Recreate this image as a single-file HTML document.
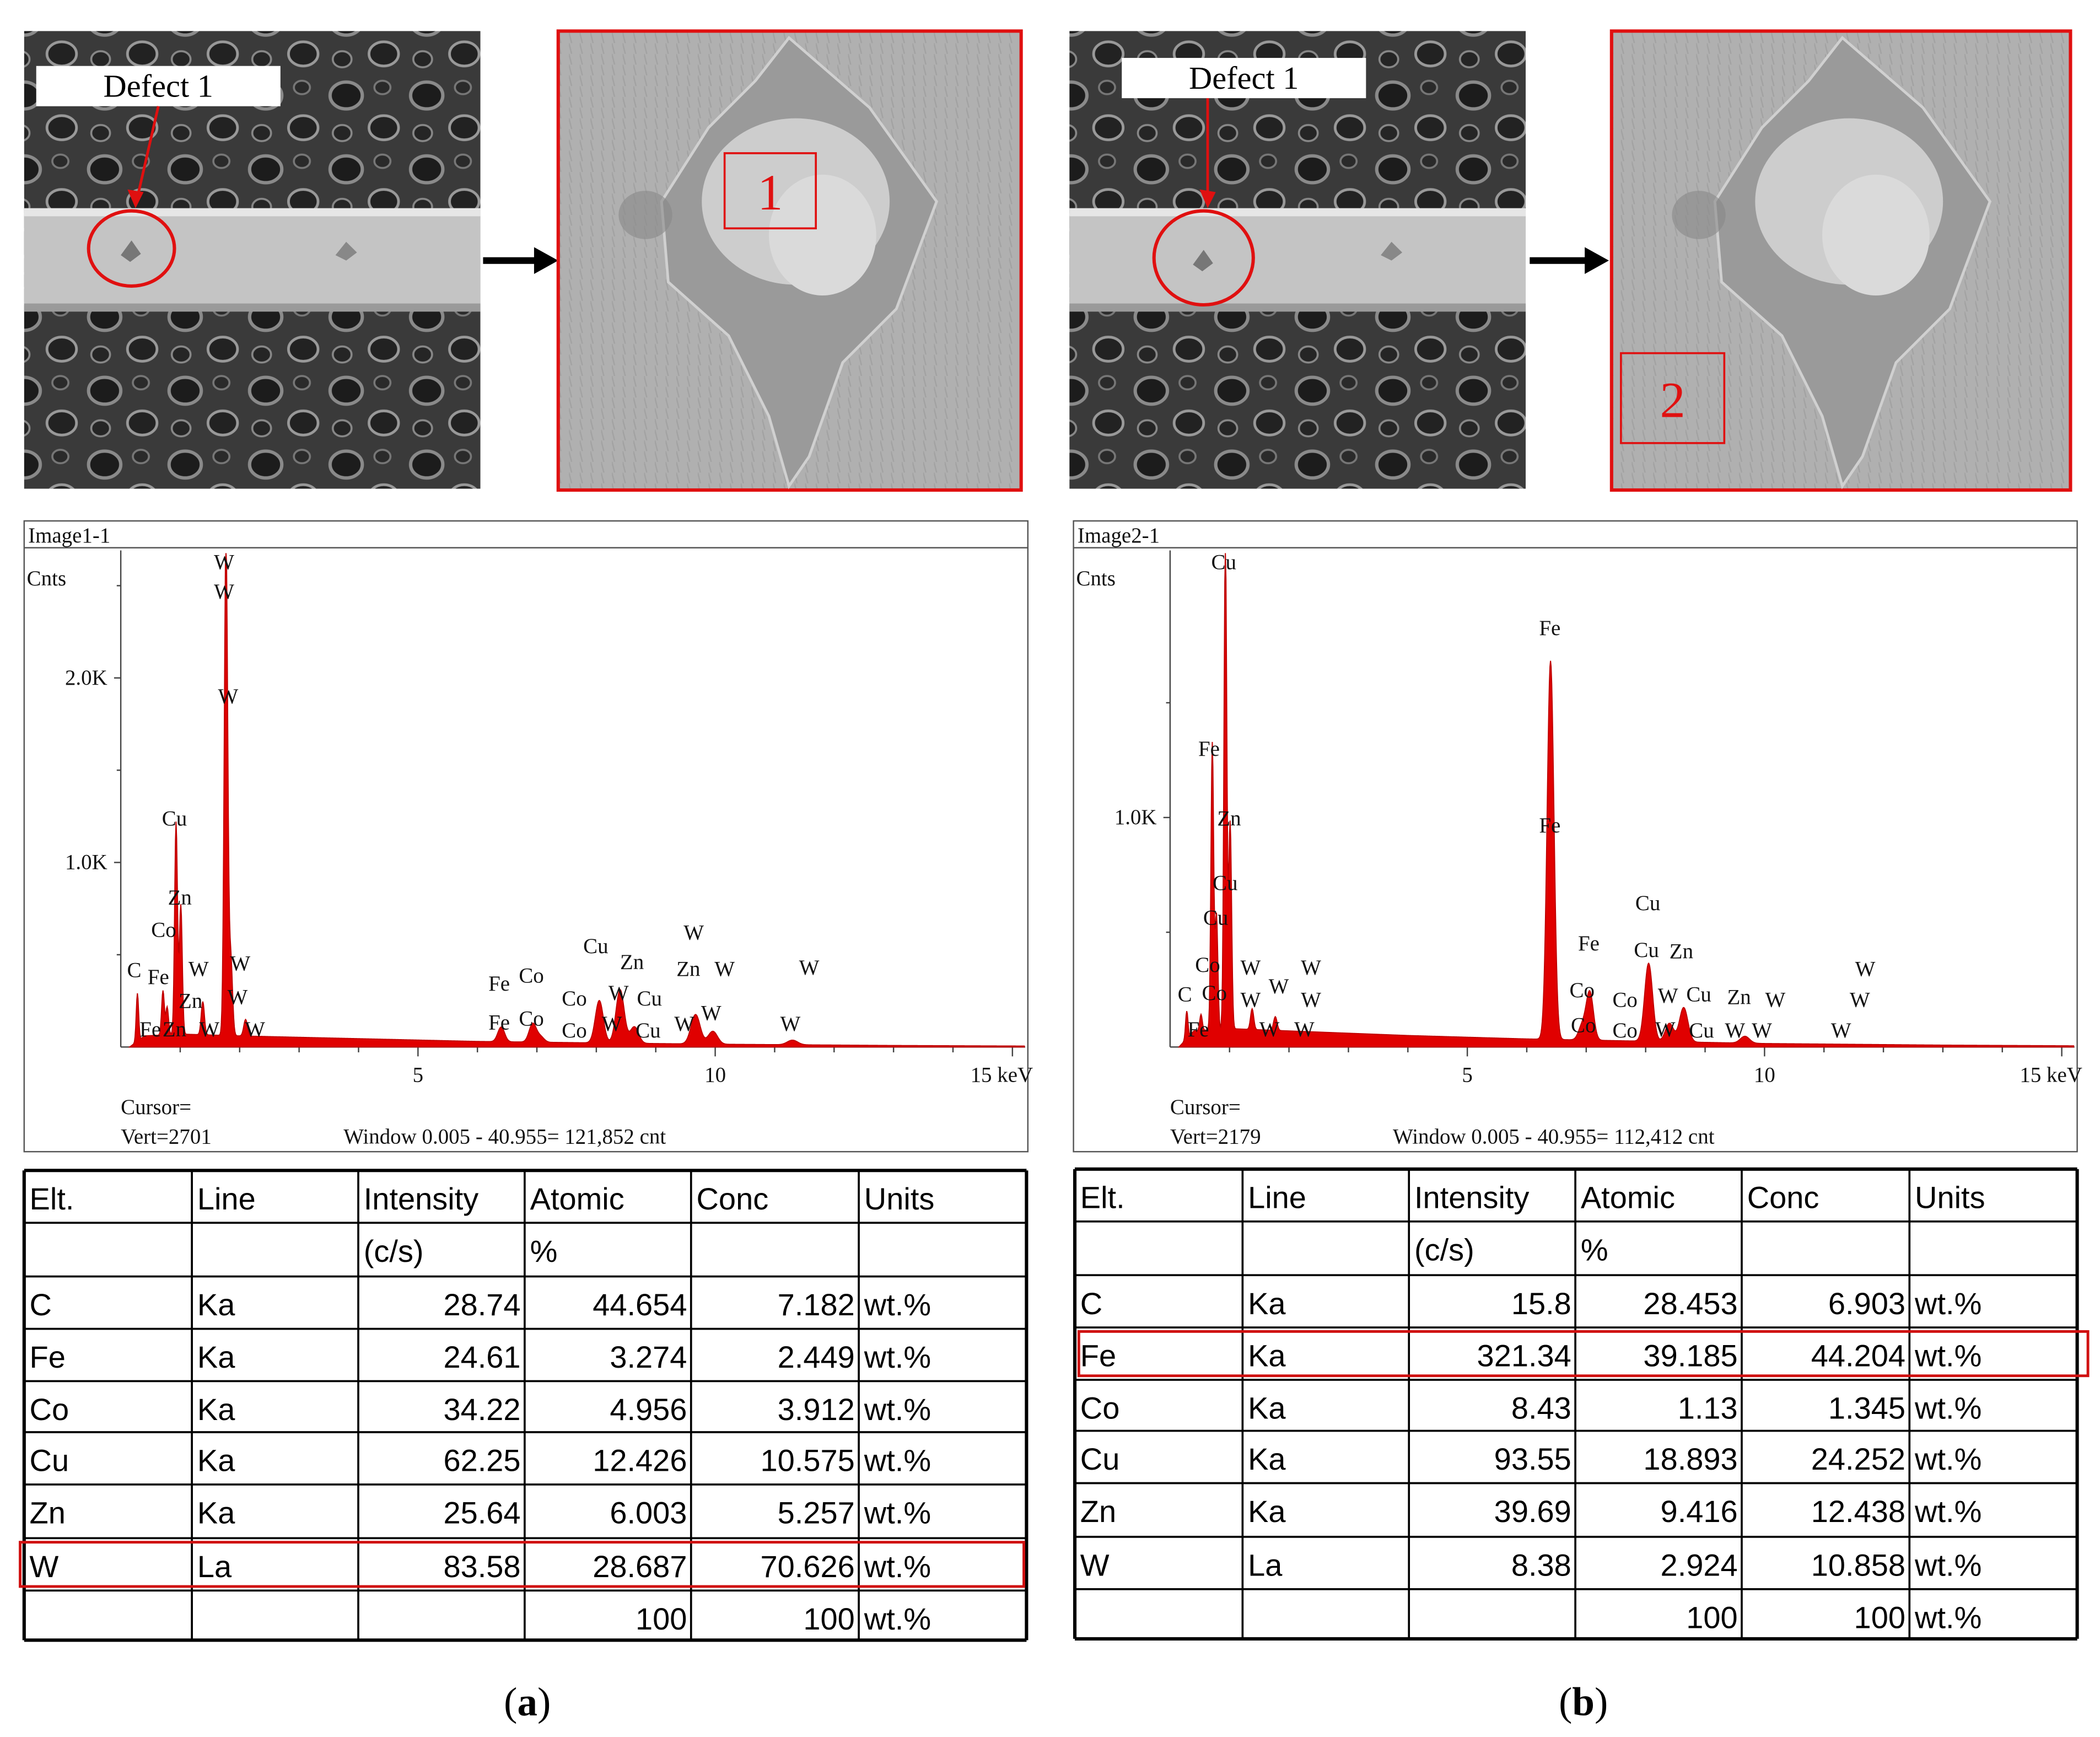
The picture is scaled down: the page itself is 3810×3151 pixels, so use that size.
<!DOCTYPE html>
<html><head><meta charset="utf-8"><style>
html,body{margin:0;padding:0;background:#fff}
svg{display:block}
.s{font-family:"Liberation Serif",serif;font-size:16px;fill:#111}
.t{font-family:"Liberation Sans",sans-serif;font-size:23px;fill:#000}
</style></head><body>
<svg id="root" width="3810" height="3151" viewBox="0 0 1565 1294" xmlns="http://www.w3.org/2000/svg">
<defs>
<pattern id="cells" width="60" height="55" patternUnits="userSpaceOnUse">
<rect width="60" height="55" fill="#3a3a3a"/>
<ellipse cx="18" cy="16" rx="12" ry="10" fill="#1c1c1c" stroke="#8a8a8a" stroke-width="2.5"/>
<ellipse cx="46" cy="40" rx="11" ry="9" fill="#222" stroke="#999" stroke-width="2"/>
<ellipse cx="45" cy="10" rx="6" ry="5" fill="#2a2a2a" stroke="#777" stroke-width="1.5"/>
<ellipse cx="15" cy="44" rx="7" ry="6" fill="#252525" stroke="#888" stroke-width="1.5"/>
</pattern>
<pattern id="metal" width="8" height="8" patternUnits="userSpaceOnUse">
<rect width="8" height="8" fill="#b0b0b0"/><line x1="0" y1="0" x2="2" y2="8" stroke="#a2a2a2" stroke-width="1"/>
</pattern>
</defs>
<g id="panels"></g>
</svg>
<script>
// ---- data ----
const xTicksMajor=[5,10,15];
const xTickLabels=['5','10','15 keV'];
const peakEA=[0.28,0.71,0.78,0.93,1.01,1.38,1.77,1.85,2.1,6.4,6.93,7.06,8.05,8.4,8.64,9.67,9.96,11.3];
const peakHA=[260,240,150,1150,700,180,2700,420,90,80,100,30,230,290,90,160,70,25];
const peakEB=[0.28,0.52,0.71,0.78,0.93,1.01,1.38,1.77,6.4,7.06,6.93,8.05,8.4,8.64,9.67];
const peakHB=[120,70,1250,500,2130,900,90,60,1650,210,60,340,80,150,30];
const yTicksA=[1000,2000];const yTickLabelsA=['1.0K','2.0K'];
const yTicksB=[1000];const yTickLabelsB=['1.0K'];
const bgE=[0.15,0.4,1,2,4,6,8,10,13,15.2];
const bgA=[0,60,70,60,45,30,22,15,8,5];
const bgB=[0,70,80,70,50,35,25,15,8,5];
const tableHead1=['Elt.','Line','Intensity','Atomic','Conc','Units'];
const tableHead2=['','','(c/s)','%','',''];
const eltA=['C','Fe','Co','Cu','Zn','W'];
const lineA=['Ka','Ka','Ka','Ka','Ka','La'];
const intA=['28.74','24.61','34.22','62.25','25.64','83.58'];
const atA=['44.654','3.274','4.956','12.426','6.003','28.687'];
const concA=['7.182','2.449','3.912','10.575','5.257','70.626'];
const intB=['15.8','321.34','8.43','93.55','39.69','8.38'];
const atB=['28.453','39.185','1.13','18.893','9.416','2.924'];
const concB=['6.903','44.204','1.345','24.252','12.438','10.858'];
const labelsA=[['W',167,424],['W',167,446],['W',170,524],['Cu',130,615],['Zn',134,674],['Co',122,698],['C',100,728],['Fe',118,733],['W',148,727],['W',179,723],['Zn',142,751],['W',177,748],['Fe',112,772],['Zn',130,772],['W',156,772],['W',190,772],['Fe',372,738],['Co',396,732],['Cu',444,710],['Zn',471,722],['W',517,700],['Zn',513,727],['W',540,727],['W',603,726],['Co',428,749],['W',461,745],['Cu',484,749],['Fe',372,767],['Co',396,764],['Co',428,773],['W',456,768],['Cu',483,773],['W',510,768],['W',530,760],['W',589,768]];
const labelsB=[['Cu',912,424],['Fe',1155,473],['Fe',901,563],['Zn',916,615],['Fe',1155,620],['Cu',913,663],['Cu',906,689],['Cu',1228,678],['Fe',1184,708],['Co',900,724],['W',932,726],['W',977,726],['Cu',1227,713],['Zn',1253,714],['C',883,746],['Co',905,745],['W',932,750],['W',953,740],['W',977,750],['Co',1179,743],['Co',1211,750],['W',1243,747],['Cu',1266,746],['Zn',1296,748],['W',1323,750],['W',1390,727],['W',1386,750],['Co',1180,769],['Co',1211,773],['W',1241,772],['Cu',1268,773],['W',1293,773],['W',1313,773],['W',1372,773],['W',946,772],['W',972,772],['Fe',893,772]];

const NS='http://www.w3.org/2000/svg';
const root=document.getElementById('panels');
function mk(tag,attrs,parent,text){const e=document.createElementNS(NS,tag);for(const k in attrs)e.setAttribute(k,attrs[k]);if(text!==undefined)e.textContent=text;(parent||root).appendChild(e);return e;}

function semPanel(ox,boxes){
  const g=mk('g',{});
  
  
  mk('rect',{x:ox,y:23,width:340,height:341,fill:'url(#cells)'},g);
  mk('rect',{x:ox,y:155,width:340,height:77,fill:'#c4c4c4'},g);
  mk('rect',{x:ox,y:155,width:340,height:6,fill:'#e6e6e6'},g);
  mk('rect',{x:ox,y:226,width:340,height:6,fill:'#9a9a9a'},g);
  mk('rect',{x:boxes.lx,y:boxes.ly,width:182,height:30,fill:'#fff'},g);
  const t=mk('text',{x:boxes.lx+91,y:boxes.ly+23,'text-anchor':'middle','font-family':'Liberation Serif,serif','font-size':24},g,'Defect 1');
  
  mk('line',{x1:boxes.ax1,y1:boxes.ly+30,x2:boxes.ax2,y2:boxes.ay2,stroke:'#e01010','stroke-width':2},g);
  mk('polygon',{points:`${boxes.ax2-6},${boxes.ay2-12} ${boxes.ax2+6},${boxes.ay2-10} ${boxes.ax2},${boxes.ay2+2}`,fill:'#e01010'},g);
  const c=mk('ellipse',{cx:boxes.cx,cy:boxes.cy,rx:boxes.rx,ry:boxes.ry,fill:'none',stroke:'#e01010','stroke-width':2.5},g);
  
  mk('polygon',{points:`${boxes.cx-8},${boxes.cy+5} ${boxes.cx},${boxes.cy-6} ${boxes.cx+7},${boxes.cy+4} ${boxes.cx-1},${boxes.cy+10}`,fill:'#777'},g);
  mk('polygon',{points:`${ox+232},190 ${ox+240},180 ${ox+248},188 ${ox+240},194`,fill:'#888'},g);
}
function arrow(x1,x2){const g=mk('g',{});
  mk('line',{x1:x1,y1:194,x2:x2-14,y2:194,stroke:'#000','stroke-width':5},g);
  mk('polygon',{points:`${x2-18},184 ${x2},194 ${x2-18},204`,fill:'#000'},g);}
function zoomPanel(ox,w,box){
  const g=mk('g',{});
  mk('rect',{x:ox,y:23,width:w,height:342,fill:'url(#metal)',stroke:'#e01010','stroke-width':2.5},g);
  const cx=ox+172;
  mk('polygon',{points:`${cx},28 ${cx+60},80 ${cx+110},150 ${cx+80},230 ${cx+40},270 ${cx+15},340 ${cx},362 ${cx-15},310 ${cx-45},250 ${cx-90},210 ${cx-95},150 ${cx-60},95 ${cx-25},60`,fill:'#9a9a9a',stroke:'#d0d0d0','stroke-width':2},g);
  mk('ellipse',{cx:cx+5,cy:150,rx:70,ry:62,fill:'#cdcdcd'},g);
  mk('ellipse',{cx:cx+25,cy:175,rx:40,ry:45,fill:'#dadada'},g);
  mk('ellipse',{cx:ox+65,cy:160,rx:20,ry:18,fill:'#888','opacity':0.6},g);
  const r=mk('rect',{x:box.x,y:box.y,width:box.w,height:box.h,fill:'none',stroke:'#e01010','stroke-width':1.5},g);
  
  mk('text',{x:box.x+box.w/2,y:box.y+box.h/2+14,'text-anchor':'middle','font-family':'Liberation Serif,serif','font-size':38,fill:'#e01010'},g,box.n);
}
semPanel(18,{lx:27,ly:49,ax1:118,ax2:101,ay2:153,cx:98,cy:185,rx:32,ry:28});
arrow(360,416);
zoomPanel(416,345,{x:540,y:114,w:68,h:56,n:'1'});
semPanel(797,{lx:836,ly:43,ax1:900,ax2:900,ay2:153,cx:897,cy:192,rx:37,ry:35});
arrow(1140,1199);
zoomPanel(1201,342,{x:1208,y:263,w:77,h:67,n:'2'});

function spectrum(o){
  const g=mk('g',{});
  mk('rect',{x:o.bx,y:388,width:748,height:470,fill:'#fff',stroke:'#555','stroke-width':1},g);
  mk('line',{x1:o.bx,y1:408,x2:o.bx+748,y2:408,stroke:'#555','stroke-width':1},g);
  mk('text',{x:o.bx+3,y:404,class:'s'},g,o.title);
  mk('text',{x:o.bx+2,y:436,class:'s'},g,'Cnts');
  const x0=o.ax, kx=44.3, y0=780, ky=o.ky;
  const X=e=>x0+e*kx, Y=c=>y0-c*ky;
  mk('line',{x1:x0,y1:410,x2:x0,y2:y0,stroke:'#444','stroke-width':1},g);
  mk('line',{x1:x0,y1:y0,x2:o.bx+746,y2:y0,stroke:'#444','stroke-width':1},g);
  for(let k=1;k<=15;k++){mk('line',{x1:X(k),y1:y0,x2:X(k),y2:y0+(k%5?4:7),stroke:'#444'},g);}
  xTicksMajor.forEach((v,i)=>{const t=mk('text',{x:X(v)+(i==2?-8:0),y:y0+26,'text-anchor':'middle',class:'s'},g,xTickLabels[i]);});
  o.yt.forEach((v,i)=>{mk('line',{x1:x0-5,y1:Y(v),x2:x0,y2:Y(v),stroke:'#444'},g);
    const t=mk('text',{x:x0-10,y:Y(v)+5,'text-anchor':'end',class:'s'},g,o.ytl[i]);});
  for(let v=500;v*ky<370;v+=1000){mk('line',{x1:x0-3,y1:Y(v),x2:x0,y2:Y(v),stroke:'#444'},g);}
  let d=`M${X(0.15)},${y0}`;
  for(let e=0.15;e<=15.2;e+=0.01){
    let b=0;for(let j=0;j<bgE.length-1;j++){if(e>=bgE[j]&&e<=bgE[j+1]){b=o.bg[j]+(o.bg[j+1]-o.bg[j])*(e-bgE[j])/(bgE[j+1]-bgE[j]);}}
    let c=b;o.pe.forEach((p,i)=>{const s=0.018+0.006*p;c+=o.ph[i]*Math.exp(-((e-p)**2)/(2*s*s));});
    const c2=Math.min(c,(y0-412)/ky);
    d+=` L${X(e).toFixed(2)},${Y(c2).toFixed(2)}`;
  }
  d+=` L${X(15.2)},${y0} Z`;
  const p=mk('path',{d:d,fill:'#e00000',stroke:'#c00000','stroke-width':0.8},g);
  
  o.labels.forEach(l=>{const t=mk('text',{x:l[1],y:l[2],'text-anchor':'middle',class:'s'},g,l[0]);});
  mk('text',{x:x0,y:830,class:'s'},g,'Cursor=');
  mk('text',{x:x0,y:852,class:'s'},g,o.vert);
  mk('text',{x:x0+166,y:852,class:'s'},g,'Window 0.005 - 40.955=   '+o.cnt);
}
spectrum({name:'spectrum-a',bx:18,ax:90,ky:0.1375,title:'Image1-1',yt:yTicksA,ytl:yTickLabelsA,pe:peakEA,ph:peakHA,bg:bgA,labels:labelsA,vert:'Vert=2701',cnt:'121,852 cnt'});
spectrum({name:'spectrum-b',bx:800,ax:872,ky:0.171,title:'Image2-1',yt:yTicksB,ytl:yTickLabelsB,pe:peakEB,ph:peakHB,bg:bgB,labels:labelsB,vert:'Vert=2179',cnt:'112,412 cnt'});

function table(o){
  const g=mk('g',{});
  const cols=[0,125,249,373,497,622,747].map(v=>v+o.x);
  const rows=[0,39,79,118,157,195,234,274,313,350].map(v=>v+o.y);
  const lc=rows.length-1;
  const data=[tableHead1,tableHead2];
  for(let i=0;i<6;i++)data.push([o.elt[i],o.line[i],o.int[i],o.at[i],o.conc[i],'wt.%']);
  data.push(['','','','100','100','wt.%']);
  rows.forEach((r,i)=>mk('line',{x1:o.x,y1:r,x2:o.x+747,y2:r,stroke:'#000','stroke-width':(i==0||i==lc)?2.5:1.5},g));
  cols.forEach((c,i)=>mk('line',{x1:c,y1:o.y,x2:c,y2:rows[lc],stroke:'#000','stroke-width':(i==0||i==6)?2.5:1.5},g));
  data.forEach((row,ri)=>row.forEach((v,ci)=>{if(!v)return;
    const num=ri>=2&&ci>=2&&ci<=4;
    const t=mk('text',{x:num?cols[ci+1]-3:cols[ci]+4,y:rows[ri]+29,'text-anchor':num?'end':'start',class:'t'},g,v);
    }));
  const hr=mk('rect',{x:o.hx,y:rows[o.hr]+3,width:o.hw,height:33,fill:'none',stroke:'#d01010','stroke-width':2},g);
  
}
table({name:'table-a',x:18,y:872,elt:eltA,line:lineA,int:intA,at:atA,conc:concA,hr:7,hx:15,hw:748});
table({name:'table-b',x:801,y:871,elt:eltA,line:lineA,int:intB,at:atB,conc:concB,hr:3,hx:804,hw:752});
const ca=mk('text',{x:393,y:1278,'text-anchor':'middle','font-family':'Liberation Serif,serif','font-size':30},root);
ca.innerHTML='(<tspan font-weight="bold">a</tspan>)';
const cb=mk('text',{x:1180,y:1278,'text-anchor':'middle','font-family':'Liberation Serif,serif','font-size':30},root);
cb.innerHTML='(<tspan font-weight="bold">b</tspan>)';
</script>
</body></html>
